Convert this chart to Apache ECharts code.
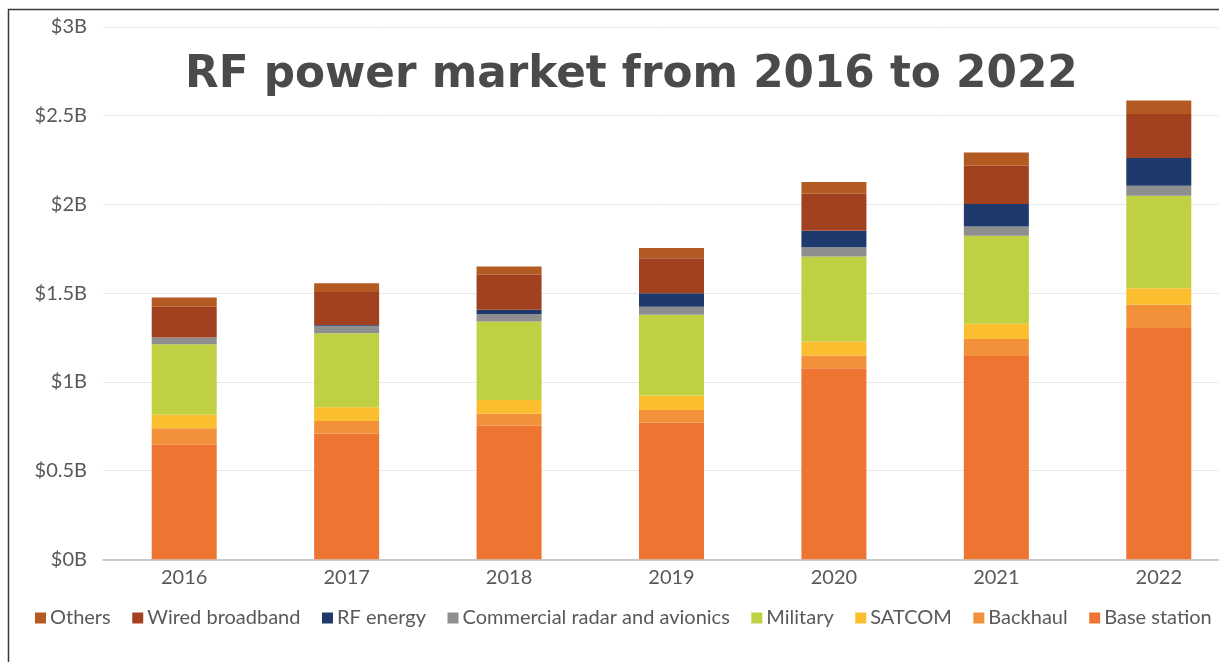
<!DOCTYPE html>
<html>
<head>
<meta charset="utf-8">
<title>RF power market from 2016 to 2022</title>
<script src="https://cdn.jsdelivr.net/npm/echarts@6/dist/echarts.min.js"></script>
<style>
  html, body { margin: 0; padding: 0; background: #ffffff; }
  #chart { width: 1219px; height: 662px; }
</style>
</head>
<body>
<div id="chart"></div>
<script>
// Market size by application, in billions of US dollars
const years = ['2016', '2017', '2018', '2019', '2020', '2021', '2022'];

const baseStation     = [0.645, 0.707, 0.753, 0.770, 1.077, 1.146, 1.303];
const backhaul        = [0.094, 0.073, 0.068, 0.072, 0.071, 0.095, 0.131];
const satcom          = [0.075, 0.077, 0.077, 0.081, 0.079, 0.086, 0.094];
const military        = [0.398, 0.417, 0.442, 0.455, 0.479, 0.496, 0.521];
const commercialRadar = [0.038, 0.042, 0.042, 0.046, 0.053, 0.053, 0.056];
const rfEnergy        = [0.000, 0.005, 0.024, 0.076, 0.092, 0.126, 0.156];
const wiredBroadband  = [0.174, 0.185, 0.197, 0.197, 0.209, 0.216, 0.248];
const others          = [0.051, 0.050, 0.047, 0.058, 0.066, 0.075, 0.077];

const yTicks = [0, 0.5, 1, 1.5, 2, 2.5, 3];

// Stacked from the bottom up
const segments = [
  { name: 'Base station',                  data: baseStation,     color: '#ED7431' },
  { name: 'Backhaul',                      data: backhaul,        color: '#F3913A' },
  { name: 'SATCOM',                        data: satcom,          color: '#FBBE2E' },
  { name: 'Military',                      data: military,        color: '#BFD043' },
  { name: 'Commercial radar and avionics', data: commercialRadar, color: '#8E8E8E' },
  { name: 'RF energy',                     data: rfEnergy,        color: '#1E3A6C' },
  { name: 'Wired broadband',               data: wiredBroadband,  color: '#A2411F' },
  { name: 'Others',                        data: others,          color: '#B25A22' }
];

const FONT = 'Lato, "DejaVu Sans", sans-serif';
const TEXT_GREY = '#595959';

const chart = echarts.init(document.getElementById('chart'), null, { renderer: 'canvas' });

chart.setOption({
  backgroundColor: '#ffffff',
  animation: false,
  textStyle: { fontFamily: FONT },
  title: {
    text: 'RF power market from 2016 to 2022',
    left: 180,
    top: 49,
    textStyle: {
      fontFamily: '"DejaVu Sans", "Open Sans", sans-serif',
      fontSize: 43.7,
      fontWeight: 'bold',
      color: '#4A4A4A'
    }
  },
  legend: {
    data: segments.map(s => s.name).reverse(),
    left: 30,
    top: 603,
    itemWidth: 11,
    itemHeight: 11,
    itemGap: 21.5,
    icon: 'rect',
    textStyle: { fontFamily: FONT, fontSize: 20, color: TEXT_GREY, padding: [0, 0, 0, -1] }
  },
  grid: {
    left: 103,
    width: 1137,
    top: 27,
    bottom: 102.7,
    containLabel: false,
    outerBoundsMode: 'none'
  },
  xAxis: {
    type: 'category',
    data: years,
    axisTick: { show: false },
    axisLine: { lineStyle: { color: '#BFBFBF', width: 1.5 } },
    axisLabel: { fontFamily: FONT, fontSize: 20, color: TEXT_GREY, margin: 8 }
  },
  yAxis: {
    type: 'value',
    min: yTicks[0],
    max: yTicks[yTicks.length - 1],
    interval: 0.5,
    axisLine: { show: false },
    axisTick: { show: false },
    splitLine: { lineStyle: { color: '#E9E9E9', width: 1 } },
    axisLabel: {
      fontFamily: FONT,
      fontSize: 20,
      color: TEXT_GREY,
      margin: 16,
      formatter: v => '$' + v + 'B'
    }
  },
  series: segments.map(s => ({
    name: s.name,
    type: 'bar',
    stack: 'market',
    barWidth: 65,
    data: s.data,
    itemStyle: { color: s.color },
    emphasis: { disabled: true }
  })),
  graphic: [
    {
      type: 'polyline',
      silent: true,
      shape: { points: [[8.5, 662], [8.5, 9.5], [1219, 9.5]] },
      style: { stroke: '#3A3A3A', lineWidth: 1.5, fill: null }
    }
  ]
});
</script>
</body>
</html>
